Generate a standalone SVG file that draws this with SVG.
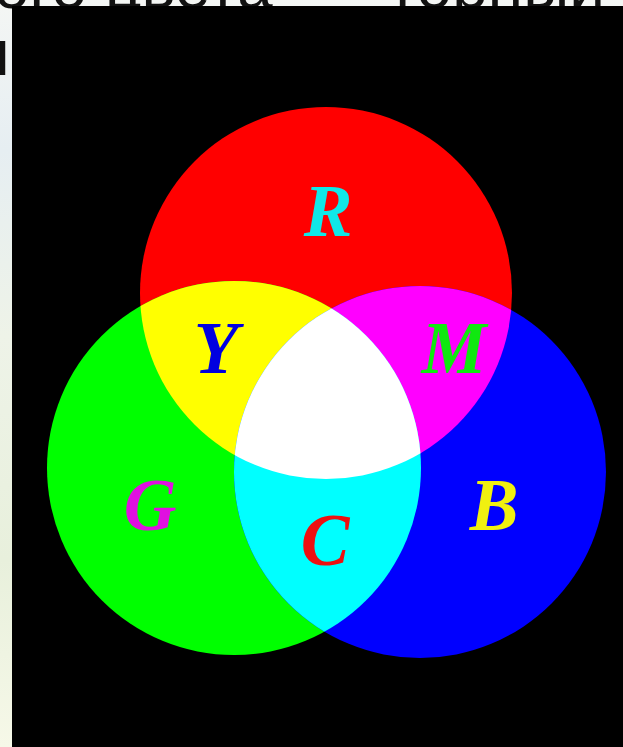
<svg xmlns="http://www.w3.org/2000/svg" width="623" height="747" viewBox="0 0 623 747">
<defs>
<linearGradient id="bg" x1="0" y1="0" x2="0" y2="1">
<stop offset="0" stop-color="#f4f6f4"/>
<stop offset="0.2" stop-color="#e6eef2"/>
<stop offset="0.45" stop-color="#eef3e8"/>
<stop offset="0.75" stop-color="#e8f0dc"/>
<stop offset="1" stop-color="#f6f8e8"/>
</linearGradient>
<circle id="cr" cx="326" cy="293" r="186"/>
<circle id="cg" cx="234" cy="468" r="187"/>
<circle id="cb" cx="420" cy="472" r="186"/>
<clipPath id="clipR"><use href="#cr"/></clipPath>
<clipPath id="clipG"><use href="#cg"/></clipPath>
<clipPath id="clipB"><use href="#cb"/></clipPath>
</defs>
<style>
.top{font-family:"Liberation Sans","DejaVu Sans",sans-serif;font-size:64px;fill:#111}
.lbl{font-family:"Liberation Serif","DejaVu Serif",serif;font-size:73px;font-weight:bold;font-style:italic;text-anchor:middle}
</style>
<rect x="0" y="0" width="623" height="747" fill="url(#bg)"/>
<g id="page-text">
<text class="top" x="-6" y="8">ого цвета</text>
<text class="top" x="388" y="8">торный</text>
<text class="top" x="-25" y="75">по</text>
</g>
<rect id="frame" x="12" y="6" width="611" height="741" fill="#000"/>
<g id="circles">
<g id="red"><use href="#cr" fill="#ff0000"/></g>
<g id="green"><use href="#cg" fill="#00ff00"/></g>
<g id="blue"><use href="#cb" fill="#0000ff"/></g>
<g id="yellow" clip-path="url(#clipR)"><use href="#cg" fill="#ffff00"/></g>
<g id="magenta" clip-path="url(#clipR)"><use href="#cb" fill="#ff00ff"/></g>
<g id="cyan" clip-path="url(#clipG)"><use href="#cb" fill="#00ffff"/></g>
<g id="white" clip-path="url(#clipR)"><g clip-path="url(#clipG)"><use href="#cb" fill="#ffffff"/></g></g>
</g>
<g id="labels">
<text class="lbl" x="328" y="236" fill="#10e8e8">R</text>
<text class="lbl" x="216" y="373" fill="#0000e0">Y</text>
<text class="lbl" x="454" y="373" fill="#10e810">M</text>
<text class="lbl" x="150" y="530" fill="#e010e0">G</text>
<text class="lbl" x="494" y="530" fill="#f0f010">B</text>
<text class="lbl" x="325" y="565" fill="#ee1010">C</text>
</g>
</svg>
